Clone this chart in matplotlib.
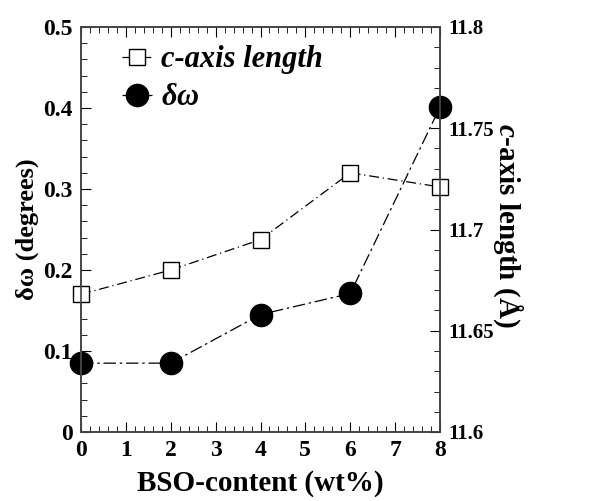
import matplotlib.pyplot as plt
from matplotlib.ticker import MultipleLocator
import numpy as np

plt.rcParams['font.family'] = ['Liberation Serif', 'DejaVu Serif']
plt.rcParams['font.weight'] = 'bold'
plt.rcParams['axes.labelweight'] = 'bold'
plt.rcParams['mathtext.fontset'] = 'custom'
plt.rcParams['mathtext.it'] = 'Liberation Serif:italic:bold'
plt.rcParams['mathtext.rm'] = 'Liberation Serif:bold'

bso = [0, 2, 4, 6, 8]
c_axis = [11.668, 11.680, 11.695, 11.728, 11.721]
delta_omega = [0.085, 0.085, 0.145, 0.171, 0.401]

left_ticks = [0, 0.1, 0.2, 0.3, 0.4, 0.5]
left_labels = ['0', '0.1', '0.2', '0.3', '0.4', '0.5']
right_ticks = [11.6, 11.65, 11.7, 11.75, 11.8]
right_labels = ['11.6', '11.65', '11.7', '11.75', '11.8']

fig = plt.figure(figsize=(6.07, 5.01), dpi=100)
ax = fig.add_axes([81/607, 1 - 432/501, 359/607, 405/501])
ax2 = ax.twinx()

l1, = ax2.plot(bso, c_axis, color='black', lw=0.9, ls=(0, (8, 3, 1, 3)),
               marker='s', ms=11.5, mfc='white', mec='black', mew=1.0,
               label='c-axis length', clip_on=False)
l2, = ax.plot(bso, delta_omega, color='black', lw=0.9, ls=(0, (10, 3, 2, 3)),
              marker='o', ms=16, mfc='black', mec='black',
              label=r'$\delta\omega$', clip_on=False)

ax.set_xlim(0, 8)
ax.set_ylim(0, 0.5)
ax2.set_ylim(11.6, 11.8)

ax.set_xticks(range(9))
ax.set_xticklabels([str(i) for i in range(9)])
ax.set_yticks(left_ticks)
ax.set_yticklabels(left_labels)
ax2.set_yticks(right_ticks)
ax2.set_yticklabels(right_labels)
ax.xaxis.set_minor_locator(MultipleLocator(0.2))
ax.yaxis.set_minor_locator(MultipleLocator(0.02))
ax2.yaxis.set_minor_locator(MultipleLocator(0.01))

ax.tick_params(which='both', direction='in', top=True, labelsize=17, pad=6)
ax.tick_params(which='major', length=7)
ax.tick_params(which='minor', length=4)
ax2.tick_params(which='both', direction='in', labelsize=15, pad=6)
ax2.tick_params(which='major', length=7)
ax2.tick_params(which='minor', length=4)

for a in (ax, ax2):
    for s in a.spines.values():
        s.set_color('#444444')
        s.set_linewidth(1.2)

ax.set_xlabel('BSO-content (wt%)', fontsize=21, labelpad=6)
ax.set_ylabel('δω (degrees)', fontsize=19, labelpad=3)
ax2.set_ylabel(r'$c$-axis length (Å)', fontsize=21, rotation=270,
               va='center', ha='center')
ax2.yaxis.set_label_coords(1.19, 0.51)

leg = ax.legend([l1, l2], ['c-axis length', r'$\delta\omega$'], loc='upper left',
                bbox_to_anchor=(0.079, 0.985), frameon=False, handlelength=1.0,
                handletextpad=0.3, labelspacing=0.3, borderaxespad=0,
                prop={'size': 22, 'style': 'italic', 'weight': 'bold'})

fig.savefig('out.png', dpi=100)
